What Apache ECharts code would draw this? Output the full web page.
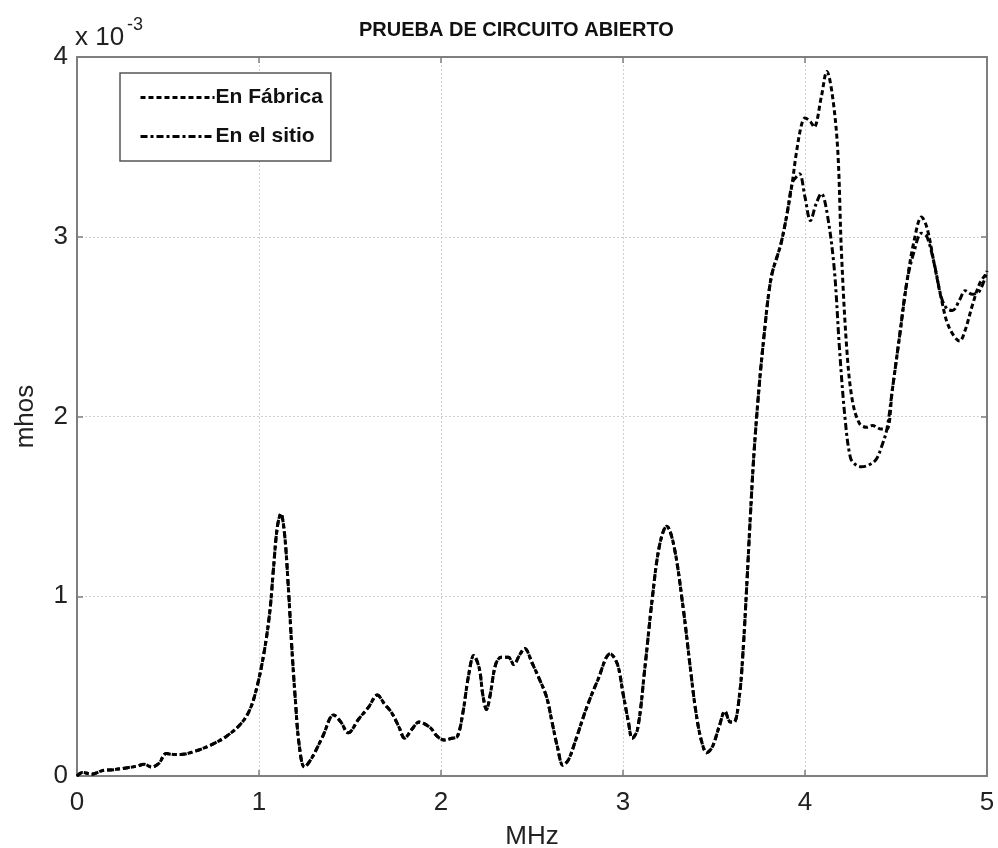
<!DOCTYPE html>
<html>
<head>
<meta charset="utf-8">
<title>Prueba de circuito abierto</title>
<script src="https://cdn.jsdelivr.net/npm/echarts@6/dist/echarts.min.js"></script>
<style>
  html, body { margin: 0; padding: 0; background: #fff; }
  #chart { width: 998px; height: 848px; }
</style>
</head>
<body>
<div id="chart"></div>
<script>
// Admittance in units of 1e-3 mhos versus frequency in MHz.
// Both measurements coincide up to ~3.9 MHz.
const freqCommon = [
  0.00, 0.03, 0.08, 0.14, 0.20, 0.27, 0.33, 0.37, 0.41, 0.45, 0.49, 0.53, 0.57, 0.64, 0.73, 0.82,
  0.90, 0.95, 0.99, 1.03, 1.06, 1.08, 1.10, 1.12, 1.14, 1.16, 1.18, 1.20, 1.22, 1.25, 1.29, 1.35,
  1.41, 1.45, 1.49, 1.55, 1.60, 1.65, 1.69, 1.73, 1.77, 1.80, 1.84, 1.88, 1.94, 1.98, 2.02, 2.06,
  2.09, 2.12, 2.15, 2.18, 2.21, 2.23, 2.25, 2.27, 2.30, 2.33, 2.37, 2.40, 2.43, 2.46, 2.50, 2.54,
  2.58, 2.61, 2.64, 2.67, 2.70, 2.74, 2.80, 2.86, 2.93, 2.97, 3.00, 3.03, 3.05, 3.08, 3.12, 3.16,
  3.20, 3.24, 3.28, 3.33, 3.37, 3.40, 3.43, 3.46, 3.49, 3.53, 3.56, 3.59, 3.61, 3.64, 3.66, 3.68,
  3.70, 3.72, 3.75, 3.78, 3.80, 3.82, 3.85, 3.87, 3.90, 3.93
];
const valCommon = [
  0.00, 0.02, 0.01, 0.03, 0.035, 0.045, 0.055, 0.065, 0.05, 0.07, 0.125, 0.12, 0.12, 0.135, 0.17, 0.22,
  0.29, 0.37, 0.50, 0.70, 0.92, 1.16, 1.38, 1.46, 1.35, 1.07, 0.72, 0.42, 0.18, 0.05, 0.10, 0.22,
  0.34, 0.30, 0.24, 0.32, 0.38, 0.45, 0.40, 0.35, 0.27, 0.21, 0.26, 0.30, 0.27, 0.22, 0.20, 0.21,
  0.22, 0.35, 0.55, 0.67, 0.60, 0.45, 0.37, 0.45, 0.62, 0.66, 0.66, 0.62, 0.67, 0.71, 0.63, 0.54,
  0.44, 0.30, 0.16, 0.06, 0.09, 0.20, 0.38, 0.53, 0.68, 0.62, 0.46, 0.30, 0.21, 0.26, 0.60, 0.98,
  1.28, 1.39, 1.28, 0.94, 0.60, 0.36, 0.20, 0.13, 0.16, 0.28, 0.36, 0.30, 0.30, 0.45, 0.70, 1.06,
  1.45, 1.80, 2.19, 2.50, 2.68, 2.80, 2.90, 2.97, 3.12, 3.30
];

// Factory measurement beyond 3.93 MHz
const freqFabrica = [
  3.95, 3.98, 4.00, 4.03, 4.05, 4.09, 4.12, 4.15, 4.18, 4.20, 4.23, 4.26, 4.30, 4.34, 4.37, 4.42,
  4.45, 4.48, 4.52, 4.56, 4.60, 4.64, 4.67, 4.71, 4.75, 4.79, 4.85, 4.88, 4.92, 4.96, 5.00
];
const valFabrica = [
  3.45, 3.62, 3.66, 3.64, 3.61, 3.78, 3.92, 3.79, 3.48, 2.92, 2.37, 2.09, 1.96, 1.94, 1.95, 1.93,
  1.93, 2.15, 2.45, 2.75, 2.98, 3.11, 3.05, 2.85, 2.65, 2.50, 2.42, 2.48, 2.62, 2.74, 2.80
];

// On-site measurement beyond 3.93 MHz
const freqSitio = [
  3.95, 3.97, 4.00, 4.03, 4.06, 4.09, 4.12, 4.16, 4.19, 4.22, 4.25, 4.28, 4.31, 4.35, 4.39, 4.42,
  4.45, 4.48, 4.52, 4.56, 4.60, 4.64, 4.67, 4.71, 4.75, 4.78, 4.81, 4.85, 4.88, 4.92, 4.96, 5.00
];
const valSitio = [
  3.33, 3.35, 3.22, 3.09, 3.18, 3.24, 3.14, 2.83, 2.37, 1.99, 1.77, 1.73, 1.72, 1.73, 1.76, 1.83,
  1.93, 2.15, 2.45, 2.75, 2.92, 3.02, 3.00, 2.85, 2.66, 2.60, 2.59, 2.65, 2.70, 2.68, 2.70, 2.81
];

const xTicks = [0, 1, 2, 3, 4, 5];
const yTicks = [0, 1, 2, 3, 4];

const seriesNames = ['En Fábrica', 'En el sitio'];

function pairs(xs, ys) {
  return xs.map((x, i) => [x, ys[i]]);
}

const dataFabrica = pairs(freqCommon.concat(freqFabrica), valCommon.concat(valFabrica));
const dataSitio = pairs(freqCommon.concat(freqSitio), valCommon.concat(valSitio));

const FONT = '"Liberation Sans", Arial, sans-serif';
const AXIS_GRAY = '#7f7f7f';
const GRID_GRAY = '#cfcfcf';

const chart = echarts.init(document.getElementById('chart'), null, { renderer: 'canvas' });

const frameAxisX = {
  type: 'value', min: xTicks[0], max: xTicks[xTicks.length - 1], interval: 1,
  axisLine: { show: true, onZero: false, lineStyle: { color: AXIS_GRAY, width: 2 } },
  axisTick: { show: true, inside: true, length: 6, lineStyle: { color: AXIS_GRAY, width: 1.5 } },
  splitLine: { show: false }
};
const frameAxisY = {
  type: 'value', min: yTicks[0], max: yTicks[yTicks.length - 1], interval: 1,
  axisLine: { show: true, onZero: false, lineStyle: { color: AXIS_GRAY, width: 2 } },
  axisTick: { show: true, inside: true, length: 6, lineStyle: { color: AXIS_GRAY, width: 1.5 } },
  splitLine: { show: false }
};

chart.setOption({
  backgroundColor: '#ffffff',
  animation: false,
  title: {
    text: 'PRUEBA DE CIRCUITO ABIERTO',
    left: 354,
    top: 15,
    textStyle: { fontFamily: FONT, fontSize: 20, fontWeight: 'bold', color: '#111' }
  },
  graphic: [
    {
      type: 'text', left: 75, top: 25,
      style: { text: 'x 10', fontFamily: FONT, fontSize: 26, fill: '#222' }
    },
    {
      type: 'text', left: 127, top: 16,
      style: { text: '-3', fontFamily: FONT, fontSize: 18, fill: '#222' }
    }
  ],
  legend: {
    left: 120,
    top: 73,
    orient: 'vertical',
    data: seriesNames,
    itemWidth: 74,
    itemHeight: 14,
    itemGap: 18,
    padding: [14, 8, 14, 19],
    backgroundColor: '#fff',
    borderColor: '#555',
    borderWidth: 1.5,
    borderRadius: 0,
    itemStyle: { opacity: 0 },
    lineStyle: { width: 3 },
    textStyle: { fontFamily: FONT, fontSize: 21, fontWeight: 'bold', color: '#111', padding: [0, 0, 0, -4] }
  },
  grid: { left: 77, right: 11, top: 57, bottom: 72, containLabel: false, outerBoundsMode: 'none' },
  xAxis: [
    {
      type: 'value', min: xTicks[0], max: xTicks[xTicks.length - 1], interval: 1,
      name: 'MHz', nameLocation: 'middle', nameGap: 48,
      nameTextStyle: { fontFamily: FONT, fontSize: 26, color: '#222' },
      axisLine: { show: true, onZero: false, lineStyle: { color: AXIS_GRAY, width: 2 } },
      axisTick: { show: true, inside: true, length: 6, lineStyle: { color: AXIS_GRAY, width: 1.5 } },
      axisLabel: { fontFamily: FONT, fontSize: 26, color: '#222', margin: 14 },
      splitLine: { show: true, lineStyle: { color: GRID_GRAY, width: 1, type: [2, 2] } }
    },
    Object.assign({ position: 'top', axisLabel: { show: false } }, frameAxisX)
  ],
  yAxis: [
    {
      type: 'value', min: yTicks[0], max: yTicks[yTicks.length - 1], interval: 1,
      name: 'mhos', nameLocation: 'middle', nameGap: 38, nameRotate: 90,
      nameTextStyle: { fontFamily: FONT, fontSize: 26, color: '#222' },
      axisLine: { show: true, onZero: false, lineStyle: { color: AXIS_GRAY, width: 2 } },
      axisTick: { show: true, inside: true, length: 6, lineStyle: { color: AXIS_GRAY, width: 1.5 } },
      axisLabel: { fontFamily: FONT, fontSize: 26, color: '#222', margin: 9 },
      splitLine: { show: true, lineStyle: { color: GRID_GRAY, width: 1, type: [2, 2] } }
    },
    Object.assign({ position: 'right', axisLabel: { show: false } }, frameAxisY)
  ],
  series: [
    {
      name: seriesNames[0],
      type: 'line',
      data: dataFabrica,
      symbol: 'none',
      smooth: 0.35,
      lineStyle: { color: '#000', width: 3, type: [5, 3] },
      itemStyle: { color: '#000' },
      z: 3
    },
    {
      name: seriesNames[1],
      type: 'line',
      data: dataSitio,
      symbol: 'none',
      smooth: 0.35,
      lineStyle: { color: '#000', width: 3, type: [7, 3, 3, 3] },
      itemStyle: { color: '#000' },
      z: 4
    }
  ]
});
</script>
</body>
</html>
